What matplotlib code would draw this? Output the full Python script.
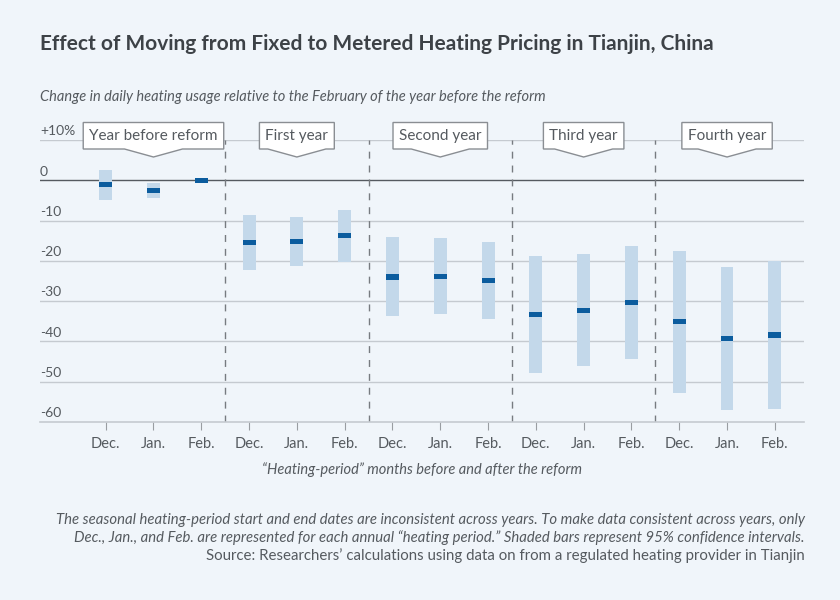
import numpy as np
import matplotlib
matplotlib.use('Agg')
import matplotlib.pyplot as plt
from matplotlib.patches import Polygon

# data
months = ['Dec.', 'Jan.', 'Feb.'] * 5
periods = ['Year before reform', 'First year', 'Second year', 'Third year', 'Fourth year']
estimate = [-1.1, -2.5, 0.0, -15.4, -15.2, -13.8, -24.0, -23.8, -24.8,
            -33.3, -32.3, -30.4, -35.1, -39.3, -38.4]
ci_low = [-5.0, -4.3, np.nan, -22.3, -21.2, -20.2, -33.7, -33.3, -34.5,
          -47.9, -46.2, -44.4, -52.8, -56.9, -56.7]
ci_high = [2.6, -0.7, np.nan, -8.5, -9.2, -7.4, -14.2, -14.4, -15.2,
           -18.8, -18.4, -16.3, -17.6, -21.5, -20.0]
yticks = [10, 0, -10, -20, -30, -40, -50, -60]
ylabels = ['+10%', '0', '-10', '-20', '-30', '-40', '-50', '-60']

bg = '#f0f5fa'
txt = '#555a5f'
plt.rcParams['font.family'] = ['Lato', 'DejaVu Sans']

fig = plt.figure(figsize=(8.4, 6), dpi=100, facecolor=bg)
ax = fig.add_axes([40/840, 1-422/600, 764/840, 282/600])
ax.set_facecolor(bg)

x = np.arange(len(months))
low = np.array(ci_low)
high = np.array(ci_high)
est = np.array(estimate)

ax.bar(x, high - low, bottom=low, width=0.27, color='#c3d8ea', zorder=3)
ax.bar(x, 1.3, bottom=est - 0.65, width=0.27, color='#0b5c9e', zorder=4)

ax.set_xlim(-1.374, 14.61)
ax.set_ylim(-60, 10)

for v in yticks[:-1]:
    if v == 0:
        ax.axhline(v, color='#555a60', lw=1.0, zorder=2)
    else:
        ax.axhline(v, color='#c5cad0', lw=1.0, zorder=1)
for v, lab in zip(yticks, ylabels):
    ax.annotate(lab, (0, v), xycoords=ax.get_yaxis_transform(), xytext=(0, 2),
                textcoords='offset points', ha='left', va='bottom',
                fontsize=10, color=txt)

for b in [2.5, 5.5, 8.5, 11.5]:
    ax.axvline(b, color='#777b80', lw=1, ls=(0, (5, 5)), zorder=2)

for s in ['top', 'right', 'left']:
    ax.spines[s].set_visible(False)
ax.spines['bottom'].set_color('#c5cad0')
ax.spines['bottom'].set_linewidth(1.2)
ax.set_yticks([])
ax.set_xticks(x)
ax.set_xticklabels(months, fontsize=10.5, color=txt)
ax.tick_params(axis='x', length=6, color='#999da2', pad=5)

ax.set_xlabel('\u201cHeating-period\u201d months before and after the reform',
              fontsize=10.5, color=txt, style='italic', labelpad=8)

# callout boxes
fig.canvas.draw()
r = fig.canvas.get_renderer()
inv = ax.transData.inverted()
for i, name in enumerate(periods):
    cx = 3 * i + 1
    t = ax.text(cx, 10.9, name, ha='center', va='center', fontsize=11,
                color=txt, zorder=11, clip_on=False)
    bb = t.get_window_extent(r)
    px0, px1 = bb.x0 - 6, bb.x1 + 6
    pc = ax.transData.transform((cx, 0))[0]
    ptop = fig.bbox.height - 122.5
    pbot = fig.bbox.height - 149
    papex = fig.bbox.height - 157
    pts = [(px0, ptop), (px1, ptop), (px1, pbot), (pc + 29, pbot),
           (pc, papex), (pc - 29, pbot), (px0, pbot)]
    pts = inv.transform(pts)
    ax.add_patch(Polygon(pts, closed=True, facecolor='white', edgecolor='#8a8e93',
                         lw=1, zorder=10, clip_on=False))

fig.text(40/840, 1-44/600, 'Effect of Moving from Fixed to Metered Heating Pricing in Tianjin, China',
         fontsize=15, fontweight='bold', color='#3d4247', va='center')
fig.text(40/840, 1-97/600, 'Change in daily heating usage relative to the February of the year before the reform',
         fontsize=10.5, style='italic', color=txt, va='center')

notes = ['The seasonal heating-period start and end dates are inconsistent across years. To make data consistent across years, only',
         'Dec., Jan., and Feb. are represented for each annual \u201cheating period.\u201d Shaded bars represent 95% confidence intervals.']
for k, line in enumerate(notes):
    fig.text(805/840, 1-(520 + 18*k)/600, line, fontsize=10.7, style='italic',
             color=txt, ha='right', va='center')
fig.text(805/840, 1-556/600, 'Source: Researchers\u2019 calculations using data on from a regulated heating provider in Tianjin',
         fontsize=10.8, color=txt, ha='right', va='center')

fig.savefig('out.png', dpi=100, facecolor=bg)
